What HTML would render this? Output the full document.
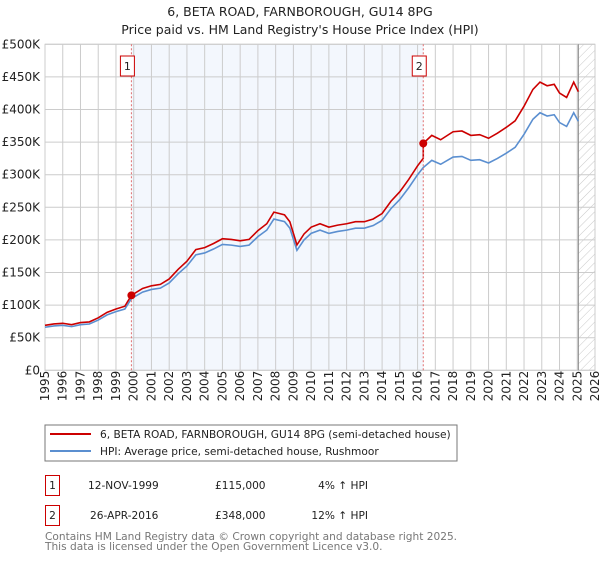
<!DOCTYPE html>
<html><head><meta charset="utf-8"><style>
body{margin:0;background:#fff;font-family:"DejaVu Sans","Liberation Sans",sans-serif;}
svg text{font-family:"DejaVu Sans","Liberation Sans",sans-serif;}
</style></head><body>
<svg id="chart" width="600" height="560" viewBox="0 0 600 560">
<defs><pattern id="hatch" width="6" height="6" patternUnits="userSpaceOnUse" patternTransform="rotate(45)"><line x1="0" y1="0" x2="0" y2="6" stroke="#bbb" stroke-width="0.8"/></pattern></defs>
<text x="300" y="16" text-anchor="middle" font-size="12.5" fill="#222">6, BETA ROAD, FARNBOROUGH, GU14 8PG</text>
<text x="300" y="34" text-anchor="middle" font-size="12.5" fill="#222">Price paid vs. HM Land Registry's House Price Index (HPI)</text>
<g id="grid"></g><g id="series"></g><g id="marks"></g>
<rect x="45" y="425" width="412" height="36" fill="#fff" stroke="#777"/>
<line x1="50" y1="434" x2="91" y2="434" stroke="#cc0000" stroke-width="2"/>
<text x="100" y="438" font-size="10.6" fill="#222">6, BETA ROAD, FARNBOROUGH, GU14 8PG (semi-detached house)</text>
<line x1="50" y1="451" x2="91" y2="451" stroke="#5b8fd0" stroke-width="2"/>
<text x="100" y="455" font-size="10.6" fill="#222">HPI: Average price, semi-detached house, Rushmoor</text>
<g font-size="10.6" fill="#222">
<rect x="45.5" y="475.5" width="14" height="20" fill="none" stroke="#cc0000"/>
<text x="52.5" y="489" text-anchor="middle">1</text>
<text x="88" y="489">12-NOV-1999</text>
<text x="215" y="489">£115,000</text>
<text x="368" y="489" text-anchor="end">4% ↑ HPI</text>
<rect x="45.5" y="505.5" width="14" height="20" fill="none" stroke="#cc0000"/>
<text x="52.5" y="519" text-anchor="middle">2</text>
<text x="90" y="519">26-APR-2016</text>
<text x="215" y="519">£348,000</text>
<text x="368" y="519" text-anchor="end">12% ↑ HPI</text>
</g>
<text x="45" y="540" font-size="10.6" fill="#777">Contains HM Land Registry data © Crown copyright and database right 2025.</text>
<text x="45" y="550" font-size="10.6" fill="#777">This data is licensed under the Open Government Licence v3.0.</text>
</svg>
<script>
const hpiYears=[1995,1995.5,1996,1996.5,1997,1997.5,1998,1998.5,1999,1999.5,1999.87,2000.5,2001,2001.5,2002,2002.5,2003,2003.5,2004,2004.5,2005,2005.5,2006,2006.5,2007,2007.5,2007.9,2008.5,2008.8,2009.2,2009.6,2010,2010.5,2011,2011.5,2012,2012.5,2013,2013.5,2014,2014.5,2015,2015.5,2016,2016.32,2016.8,2017.3,2018,2018.5,2019,2019.5,2020,2020.5,2021,2021.5,2022,2022.5,2022.9,2023.3,2023.7,2024,2024.4,2024.8,2025.06];
const hpiValues=[66,68,69,67,70,71,77,85,90,94,110,120,124,126,134,148,160,177,180,186,193,192,190,192,205,215,232,228,218,184,200,210,215,210,213,215,218,218,222,230,248,262,280,300,311,322,316,327,328,322,323,318,325,333,342,362,385,395,390,392,380,374,395,382];
const saleYears=[1999.87,2016.32];
const salePrices=[115,348];
const yTicks=[0,50,100,150,200,250,300,350,400,450,500];
const yTickLabels=["£0","£50K","£100K","£150K","£200K","£250K","£300K","£350K","£400K","£450K","£500K"];
const xTicks=[1995,1996,1997,1998,1999,2000,2001,2002,2003,2004,2005,2006,2007,2008,2009,2010,2011,2012,2013,2014,2015,2016,2017,2018,2019,2020,2021,2022,2023,2024,2025,2026];
const NS="http://www.w3.org/2000/svg";
const X0=45,X1=595,Y0=370.3,Y1=44.3;
const xs=y=>X0+(y-1995)/(2026-1995)*(X1-X0);
const ys=v=>Y0-v/500*(Y0-Y1);
function mk(tag,attrs,parent){const e=document.createElementNS(NS,tag);for(const k in attrs)e.setAttribute(k,attrs[k]);parent.appendChild(e);return e;}
const grid=document.getElementById('grid'),series=document.getElementById('series'),marks=document.getElementById('marks');
let r=mk('rect',{x:xs(saleYears[0]),y:Y1,width:xs(saleYears[1])-xs(saleYears[0]),height:Y0-Y1,fill:'#eef3fc',opacity:0.7},grid);


r=mk('rect',{x:xs(2025.06),y:Y1,width:X1-xs(2025.06),height:Y0-Y1,fill:'url(#hatch)'},grid);


yTicks.forEach((t,i)=>{
 const l=mk('line',{x1:X0,x2:X1,y1:ys(t),y2:ys(t),stroke:'#ccc'},grid);
 
 
 const tx=mk('text',{x:40,y:ys(t)+4,'text-anchor':'end','font-size':12,fill:'#222'},grid);
 tx.textContent=yTickLabels[i];
 
 
});
xTicks.forEach(t=>{
 const l=mk('line',{x1:xs(t),x2:xs(t),y1:Y1,y2:Y0,stroke:'#ccc'},grid);
 
 
 const tx=mk('text',{x:0,y:0,transform:`translate(${xs(t)+4},${Y0+31}) rotate(-90)`,'font-size':12,fill:'#222'},grid);
 tx.textContent=t;
 
 
});
const bd=mk('rect',{x:X0,y:Y1,width:X1-X0,height:Y0-Y1,fill:'none',stroke:'#ccc'},grid);


const vl=mk('line',{x1:xs(2025.06),x2:xs(2025.06),y1:Y1,y2:Y0,stroke:'#888'},grid);


function hpiAt(y){for(let i=1;i<hpiYears.length;i++){if(y<=hpiYears[i]){const f=(y-hpiYears[i-1])/(hpiYears[i]-hpiYears[i-1]);return hpiValues[i-1]+f*(hpiValues[i]-hpiValues[i-1]);}}return hpiValues[hpiValues.length-1];}
const r1=salePrices[0]/hpiAt(saleYears[0]),r2=salePrices[1]/hpiAt(saleYears[1]);
const bluePts=hpiYears.map((y,i)=>xs(y)+','+ys(hpiValues[i])).join(' ');
const redPts=[];
hpiYears.forEach((y,i)=>{
 if(y<saleYears[1])redPts.push(xs(y)+','+ys(hpiValues[i]*r1));
 else{ if(y===saleYears[1])redPts.push(xs(y)+','+ys(hpiValues[i]*r1));redPts.push(xs(y)+','+ys(hpiValues[i]*r2));}
});
let p=mk('polyline',{points:bluePts,fill:'none',stroke:'#5b8fd0','stroke-width':1.6},series);


p=mk('polyline',{points:redPts.join(' '),fill:'none',stroke:'#cc0000','stroke-width':1.6},series);


saleYears.forEach((y,i)=>{
 const l=mk('line',{x1:xs(y),x2:xs(y),y1:Y1,y2:Y0,stroke:'#e07070','stroke-dasharray':'2,2'},marks);
 
 
 const c=mk('circle',{cx:xs(y),cy:ys(salePrices[i]),r:4,fill:'#cc0000'},marks);
 
 
 const b=mk('rect',{x:xs(y)-11,y:56,width:14,height:20,fill:'#fff',stroke:'#cc0000'},marks);
 
 
 const t=mk('text',{x:xs(y)-4,y:70,'text-anchor':'middle','font-size':11,fill:'#222'},marks);
 t.textContent=String(i+1);
 
 
});
</script>
</body></html>
